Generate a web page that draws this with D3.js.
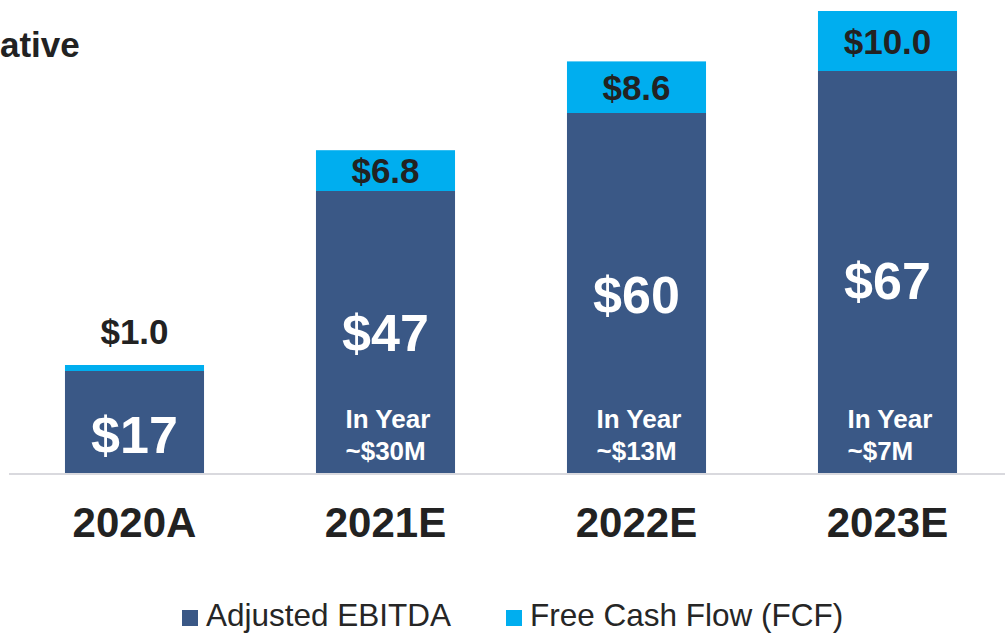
<!DOCTYPE html>
<html>
<head>
<meta charset="utf-8">
<script src="https://cdn.jsdelivr.net/npm/d3@7"></script>
<style>
  html, body { margin: 0; padding: 0; background: #fff; overflow: hidden; }
  svg { display: block; font-family: Arial, "Liberation Sans", sans-serif; }
</style>
</head>
<body>
<div id="chart"></div>
<script>
var width = 1005;
var height = 634;

// data ($M)
var years = ['2020A', '2021E', '2022E', '2023E'];
var ebitda = [17, 47, 60, 67];
var fcf = [1.0, 6.8, 8.6, 10.0];
var ebitdaLabels = ['$17', '$47', '$60', '$67'];
var fcfLabels = ['$1.0', '$6.8', '$8.6', '$10.0'];
var inYear = [null, '~$30M', '~$13M', '~$7M'];
var seriesNames = ['Adjusted EBITDA', 'Free Cash Flow (FCF)'];

var navy = '#3a5886';
var cyan = '#00aeef';
var ink = '#222222';

// small vertical nudges for the big white labels, like on the slide
var labelNudge = [12, 0, 1, 8];

var baseY = 473;

var svg = d3.select('#chart').append('svg')
    .attr('width', width)
    .attr('height', height);

var x = d3.scaleBand()
    .domain(years)
    .range([9, 1013])
    .paddingInner(0.446)
    .paddingOuter(0.223);

var y = d3.scaleLinear()
    .domain([0, 80])
    .range([baseY, baseY - 480]);

// title fragment (slide is cropped on the left)
svg.append('text')
    .attr('x', 0)
    .attr('y', 57)
    .attr('font-size', 35)
    .attr('font-weight', 'bold')
    .attr('fill', ink)
    .text('ative');

var rows = years.map(function(yr, i) {
    return {year: yr, e: ebitda[i], f: fcf[i], i: i};
});

// EBITDA bars
svg.selectAll('rect.ebitda')
    .data(rows)
    .enter().append('rect')
    .attr('class', 'ebitda')
    .attr('x', function(d) { return x(d.year); })
    .attr('width', x.bandwidth())
    .attr('y', function(d) { return y(d.e); })
    .attr('height', function(d) { return y(0) - y(d.e); })
    .attr('fill', navy);

// FCF bars stacked on top
svg.selectAll('rect.fcf')
    .data(rows)
    .enter().append('rect')
    .attr('class', 'fcf')
    .attr('x', function(d) { return x(d.year); })
    .attr('width', x.bandwidth())
    .attr('y', function(d) { return y(d.e + d.f); })
    .attr('height', function(d) { return y(d.e) - y(d.e + d.f); })
    .attr('fill', cyan);

// baseline
svg.append('line')
    .attr('x1', x.range()[0])
    .attr('x2', width)
    .attr('y1', y(0) + 1)
    .attr('y2', y(0) + 1)
    .attr('stroke', '#d9d9de')
    .attr('stroke-width', 2);

// EBITDA value labels
svg.selectAll('text.ev')
    .data(rows)
    .enter().append('text')
    .attr('class', 'ev')
    .attr('x', function(d) { return x(d.year) + x.bandwidth() / 2; })
    .attr('y', function(d) { return (y(0) + y(d.e)) / 2 + 18.6 + labelNudge[d.i]; })
    .attr('text-anchor', 'middle')
    .attr('font-size', 52)
    .attr('font-weight', 'bold')
    .attr('fill', '#fff')
    .text(function(d) { return ebitdaLabels[d.i]; });

// FCF value labels: inside the segment, or above it when it is too thin
svg.selectAll('text.fv')
    .data(rows)
    .enter().append('text')
    .attr('class', 'fv')
    .attr('x', function(d) { return x(d.year) + x.bandwidth() / 2; })
    .attr('y', function(d) {
        var top = y(d.e + d.f), bot = y(d.e);
        if (bot - top < 30) return top - 21;
        return (top + bot) / 2 + 12.5;
    })
    .attr('text-anchor', 'middle')
    .attr('font-size', 35)
    .attr('font-weight', 'bold')
    .attr('fill', ink)
    .text(function(d) { return fcfLabels[d.i]; });

// "In Year" notes
var notes = svg.selectAll('g.note')
    .data(rows.filter(function(d) { return inYear[d.i]; }))
    .enter().append('g')
    .attr('class', 'note')
    .attr('transform', function(d) {
        return 'translate(' + (x(d.year) + x.bandwidth() / 2 - 40) + ',0)';
    });

notes.append('text')
    .attr('y', y(0) - 45)
    .attr('font-size', 26)
    .attr('font-weight', 'bold')
    .attr('fill', '#fff')
    .text('In Year');

notes.append('text')
    .attr('y', y(0) - 13)
    .attr('font-size', 26)
    .attr('font-weight', 'bold')
    .attr('fill', '#fff')
    .text(function(d) { return inYear[d.i]; });

// category labels
svg.selectAll('text.cat')
    .data(years)
    .enter().append('text')
    .attr('class', 'cat')
    .attr('x', function(d) { return x(d) + x.bandwidth() / 2; })
    .attr('y', 537)
    .attr('text-anchor', 'middle')
    .attr('font-size', 42)
    .attr('font-weight', 'bold')
    .attr('fill', ink)
    .text(function(d) { return d; });

// legend
var legendX = [182, 506];
var legend = svg.selectAll('g.legend')
    .data(seriesNames)
    .enter().append('g')
    .attr('class', 'legend')
    .attr('transform', function(d, i) { return 'translate(' + legendX[i] + ',610)'; });

legend.append('rect')
    .attr('width', 16)
    .attr('height', 16)
    .attr('fill', function(d, i) { return i === 0 ? navy : cyan; });

legend.append('text')
    .attr('x', 24)
    .attr('y', 16)
    .attr('font-size', 31.5)
    .attr('fill', '#262626')
    .text(function(d) { return d; });
</script>
</body>
</html>
